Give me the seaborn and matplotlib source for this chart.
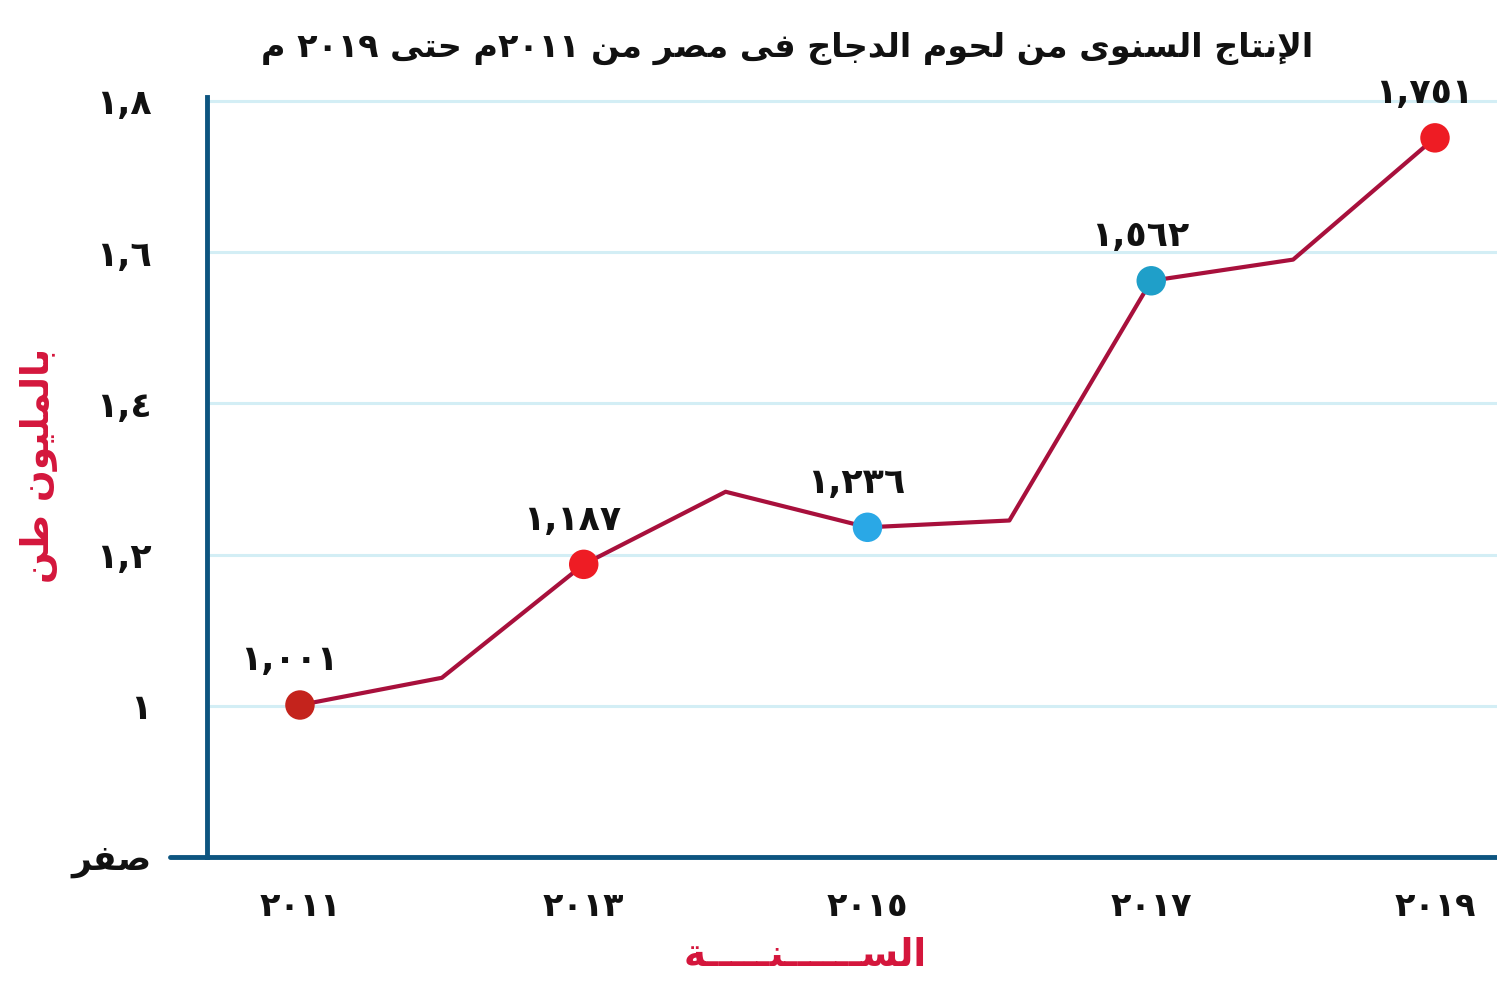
import matplotlib
matplotlib.use("Agg")
import matplotlib.pyplot as plt
import seaborn as sns
import pandas as pd

# ---- data ----
years = [2011, 2012, 2013, 2014, 2015, 2016, 2017, 2018, 2019]
production = [1.001, 1.037, 1.187, 1.283, 1.236, 1.245, 1.562, 1.590, 1.751]
labelled_years = [2011, 2013, 2015, 2017, 2019]
labelled_values = [1.001, 1.187, 1.236, 1.562, 1.751]
value_labels = ["١,٠٠١", "١,١٨٧", "١,٢٣٦", "١,٥٦٢", "١,٧٥١"]
point_colors = ["#c4231c", "#ee1c24", "#2aa8e6", "#1f9fc9", "#ee1c24"]
x_ticks = [2011, 2013, 2015, 2017, 2019]
x_tick_labels = ["٢٠١١", "٢٠١٣", "٢٠١٥", "٢٠١٧", "٢٠١٩"]
# the axis is broken below 1: "zero" sits one step under 1
y_ticks = [0.8, 1.0, 1.2, 1.4, 1.6, 1.8]
y_tick_labels = ["صفر", "١", "١,٢", "١,٤", "١,٦", "١,٨"]

title = "الإنتاج السنوى من لحوم الدجاج فى مصر من ٢٠١١م حتى ٢٠١٩ م"
y_title = "بالمليون طن"
x_title = "الســــــنـــــة"

# ---- minimal Arabic shaping (matplotlib has no complex text layout) ----
FORMS = {
    'ا': ('\uFE8D', '\uFE8E', None, None),
    'إ': ('\uFE87', '\uFE88', None, None),
    'ب': ('\uFE8F', '\uFE90', '\uFE91', '\uFE92'),
    'ة': ('\uFE93', '\uFE94', None, None),
    'ت': ('\uFE95', '\uFE96', '\uFE97', '\uFE98'),
    'ج': ('\uFE9D', '\uFE9E', '\uFE9F', '\uFEA0'),
    'ح': ('\uFEA1', '\uFEA2', '\uFEA3', '\uFEA4'),
    'د': ('\uFEA9', '\uFEAA', None, None),
    'ر': ('\uFEAD', '\uFEAE', None, None),
    'س': ('\uFEB1', '\uFEB2', '\uFEB3', '\uFEB4'),
    'ص': ('\uFEB9', '\uFEBA', '\uFEBB', '\uFEBC'),
    'ط': ('\uFEC1', '\uFEC2', '\uFEC3', '\uFEC4'),
    'ف': ('\uFED1', '\uFED2', '\uFED3', '\uFED4'),
    'ل': ('\uFEDD', '\uFEDE', '\uFEDF', '\uFEE0'),
    'م': ('\uFEE1', '\uFEE2', '\uFEE3', '\uFEE4'),
    'ن': ('\uFEE5', '\uFEE6', '\uFEE7', '\uFEE8'),
    'و': ('\uFEED', '\uFEEE', None, None),
    'ى': ('\uFEEF', '\uFEF0', None, None),
    'ي': ('\uFEF1', '\uFEF2', '\uFEF3', '\uFEF4'),
    'ـ': ('ـ', 'ـ', 'ـ', 'ـ'),
}
LAM_ALEF = {'ا': ('\uFEFB', '\uFEFC'), 'إ': ('\uFEF9', '\uFEFA'),
            'أ': ('\uFEF7', '\uFEF8'), 'آ': ('\uFEF5', '\uFEF6')}


def _shape_run(word):
    units, i = [], 0
    while i < len(word):
        if word[i] == 'ل' and i + 1 < len(word) and word[i + 1] in LAM_ALEF:
            units.append(('LA', word[i + 1]))
            i += 2
        else:
            units.append((word[i], None))
            i += 1

    def dual(u):
        return u[0] in FORMS and FORMS[u[0]][2] is not None

    def joins(u):
        return u[0] == 'LA' or u[0] in FORMS

    out = []
    for k, u in enumerate(units):
        prev = units[k - 1] if k > 0 else None
        nxt = units[k + 1] if k + 1 < len(units) else None
        jp = prev is not None and dual(prev) and joins(u)
        if u[0] == 'LA':
            out.append(LAM_ALEF[u[1]][1 if jp else 0])
            continue
        if u[0] not in FORMS:
            out.append(u[0])
            continue
        f = FORMS[u[0]]
        jn = dual(u) and nxt is not None and joins(nxt)
        out.append(f[3] if (jp and jn) else f[1] if jp else f[2] if jn else f[0])
    return ''.join(out)


def rtl(text):
    """Shape Arabic text and put it in visual (left-to-right) order."""
    def kind(c):
        if c in FORMS or c in LAM_ALEF or c == 'ل':
            return 'A'
        if c.isdigit() or c in ',٫.':
            return 'N'
        return 'S'
    runs = []
    for c in text:
        k = kind(c)
        if runs and runs[-1][0] == k:
            runs[-1][1] += c
        else:
            runs.append([k, c])
    pieces = []
    for k, s in reversed(runs):
        pieces.append(_shape_run(s)[::-1] if k == 'A' else s)
    return ''.join(pieces)


# ---- style ----
sns.set_theme(style="white")
plt.rcParams['font.family'] = ['DejaVu Sans']
plt.rcParams['font.weight'] = 'bold'

axis_color = "#0d5580"
grid_color = "#d3eef5"
line_color = "#a8103c"
red_text = "#d4163c"

fig = plt.figure(figsize=(14.97, 9.81), dpi=100)
ax = fig.add_axes([0.1383, 0.1264, 0.8617, 0.7747])

df = pd.DataFrame({"year": years, "production": production})
pts = pd.DataFrame({"year": labelled_years, "production": labelled_values,
                    "label": value_labels})

sns.lineplot(data=df, x="year", y="production", ax=ax, color=line_color,
             linewidth=3.0, zorder=3)
sns.scatterplot(data=pts, x="year", y="production", hue="label",
                palette=dict(zip(value_labels, point_colors)), s=450,
                edgecolor="none", legend=False, ax=ax, zorder=4)

for yr, val, lab in zip(labelled_years, labelled_values, value_labels):
    ax.annotate(lab, (yr, val), xytext=(-8, 20), textcoords="offset points",
                ha="center", va="bottom", fontsize=25, fontweight="bold",
                color="#111111")

ax.set_xlim(2010.345, 2019.437)
ax.set_ylim(0.8, 1.805)

ax.set_xticks(x_ticks)
ax.set_xticklabels(x_tick_labels, fontsize=24, fontweight="bold", color="#111111")
ax.set_yticks(y_ticks)
ax.set_yticklabels([rtl(t) for t in y_tick_labels], fontsize=25,
                   fontweight="bold", color="#111111")
ax.tick_params(axis="x", length=0, pad=24)
ax.tick_params(axis="y", length=18, width=2, color=grid_color, pad=22)

ax.set_xlabel("")
ax.set_ylabel("")
for t in y_ticks[1:]:
    ax.axhline(t, color=grid_color, linewidth=2.2, zorder=1)
# base line continues a little to the left of the vertical axis at zero
ax.axhline(y_ticks[0], xmin=-0.029, xmax=0.0, color=axis_color,
           linewidth=3.5, clip_on=False, zorder=5)

for side in ("top", "right"):
    ax.spines[side].set_visible(False)
for side in ("left", "bottom"):
    ax.spines[side].set_color(axis_color)
    ax.spines[side].set_linewidth(3.5)
    ax.spines[side].set_zorder(5)

fig.text(0.526, 0.951, rtl(title), ha="center", va="center", fontsize=24,
         fontweight="bold", color="#111111")
fig.text(0.026, 0.526, rtl(y_title), ha="center", va="center", rotation=90,
         fontsize=27, fontweight="bold", color=red_text)
fig.text(0.538, 0.025, rtl(x_title), ha="center", va="center", fontsize=27,
         fontweight="bold", color=red_text)

fig.savefig("out.png", dpi=100)
